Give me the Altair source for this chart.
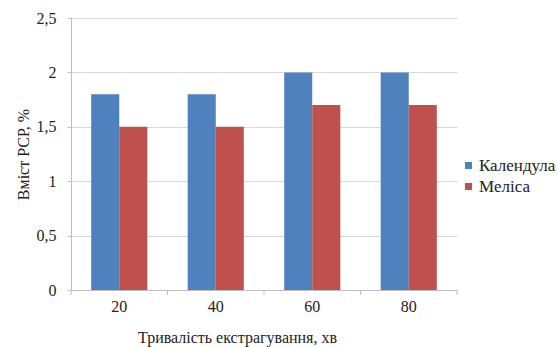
import altair as alt
import pandas as pd

# Extraction time (min) and content of the substances per plant
durations = ["20", "40", "60", "80"]
calendula = [1.8, 1.8, 2.0, 2.0]
melissa = [1.5, 1.5, 1.7, 1.7]
series_names = ["Календула", "Меліса"]
series_colors = ["#4F81BD", "#C0504D"]

rows = []
for d, c, m in zip(durations, calendula, melissa):
    rows.append({"t": d, "series": series_names[0], "value": c})
    rows.append({"t": d, "series": series_names[1], "value": m})
df = pd.DataFrame(rows)

font = "Times New Roman"
x_scale = alt.Scale(domain=durations, paddingInner=0, paddingOuter=0)

bars = alt.Chart(df).mark_bar().encode(
    x=alt.X("t:N", sort=durations, scale=x_scale,
            axis=alt.Axis(title="Тривалість екстрагування, хв", labelAngle=0,
                          ticks=False, domainColor="#bfbfbf", labelPadding=8,
                          titlePadding=15, titleX=166, titleAlign="center")),
    xOffset=alt.XOffset("series:N", sort=series_names,
                        scale=alt.Scale(paddingOuter=0.72, paddingInner=0)),
    y=alt.Y("value:Q", scale=alt.Scale(domain=[0, 2.5]),
            axis=alt.Axis(title="Вміст РСР, %", values=[0, 0.5, 1, 1.5, 2, 2.5],
                          labelExpr="replace(toString(datum.value), '.', ',')",
                          domain=True, domainColor="#bfbfbf", tickColor="#bfbfbf",
                          tickSize=4, gridColor="#d9d9d9", labelPadding=11,
                          titlePadding=5)),
    color=alt.Color("series:N", sort=series_names,
                    scale=alt.Scale(domain=series_names, range=series_colors),
                    legend=alt.Legend(title=None, orient="none", legendX=389, legendY=139,
                                      symbolType="square", symbolSize=50,
                                      symbolStrokeWidth=0, labelFontSize=17,
                                      labelFont=font, labelColor="#222",
                                      rowPadding=3, labelOffset=2)),
)

# category separator ticks below the x axis
tick_df = pd.DataFrame({"t": durations})
ticks = alt.Chart(tick_df).mark_rule(color="#bfbfbf").encode(
    x=alt.X("t:N", sort=durations, scale=x_scale, bandPosition=0),
    y=alt.value(272), y2=alt.value(277),
)
end_tick = alt.Chart(pd.DataFrame({"t": [durations[-1]]})).mark_rule(color="#bfbfbf").encode(
    x=alt.X("t:N", sort=durations, scale=x_scale, bandPosition=1),
    y=alt.value(272), y2=alt.value(277),
)

chart = alt.layer(bars, ticks, end_tick).properties(
    width=386, height=272,
    autosize=alt.AutoSizeParams(type="none"),
    padding={"left": 71, "top": 18, "right": 101, "bottom": 57},
    background="white",
).configure_view(stroke=None).configure_axis(
    labelFont=font, titleFont=font, labelFontSize=16, titleFontSize=16,
    titleFontWeight="normal", labelColor="#222", titleColor="#222",
)

chart.save("out.html", embed_options={"renderer": "svg", "actions": False})
